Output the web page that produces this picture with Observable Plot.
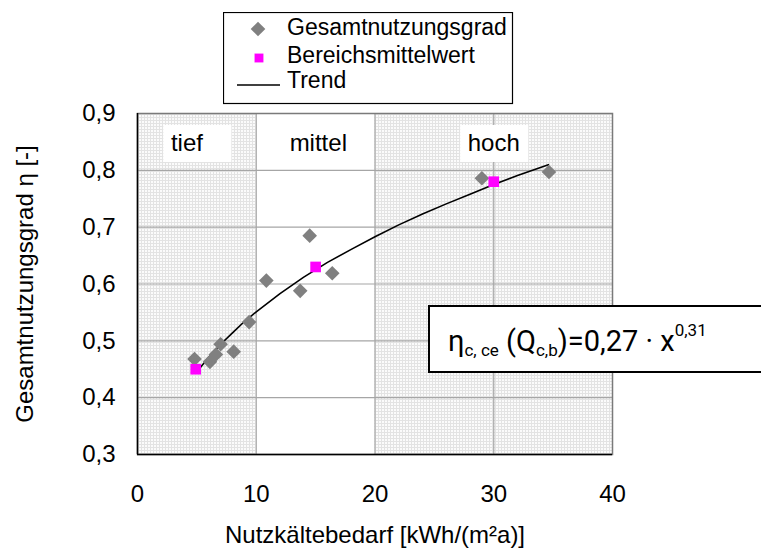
<!DOCTYPE html>
<html>
<head>
<meta charset="utf-8">
<script src="https://cdn.jsdelivr.net/npm/d3@7"></script>
<script src="https://cdn.jsdelivr.net/npm/@observablehq/plot@0.6"></script>
<style>
  html, body { margin: 0; padding: 0; background: #fff; }
  body { width: 761px; height: 552px; position: relative; overflow: hidden; font-family: "Liberation Sans", Arial, sans-serif; }
  #chart { position: absolute; left: 0; top: 0; }
  #legend { position: absolute; left: 223px; top: 12px; }
  #eq { position: absolute; left: 428px; top: 305px; width: 360px; height: 64px; border: 2px solid #000; background: #fff; font-family: Roboto, "Liberation Sans", sans-serif; font-size: 29px; color: #000; }
  #eq .line { position: absolute; left: 18px; top: 20px; line-height: 1; white-space: nowrap; }
  #eq .sub { font-size: 17px; position: relative; top: 5px; }
  #eq .sup { font-size: 17px; position: relative; top: -15px; }
</style>
</head>
<body>
<div id="chart"></div>
<svg id="legend" width="291" height="93"></svg>
<div id="eq"><div class="line"><span>η</span><span class="sub">c, ce</span> (Q<span class="sub">c,b</span>)=0,27 · x<span class="sup">0,31</span></div></div>
<script>
// ---- data ----
const xTicks = [0, 10, 20, 30, 40];
const yTicks = [0.3, 0.4, 0.5, 0.6, 0.7, 0.8, 0.9];

const zoneNames = ["tief", "mittel", "hoch"];
const zoneStart = [0, 10, 20];
const zoneEnd = [10, 20, 40];
const zoneShaded = [true, false, true];

// Gesamtnutzungsgrad (grey diamonds)
const gesX = [4.8, 6.1, 6.6, 7.0, 8.1, 9.4, 10.85, 13.7, 14.5, 16.4, 29.0, 34.65];
const gesY = [0.468, 0.463, 0.476, 0.494, 0.481, 0.533, 0.606, 0.588, 0.685, 0.619, 0.786, 0.797];

// Bereichsmittelwert (magenta squares)
const bmX = [4.9, 15.0, 30.0];
const bmY = [0.450, 0.630, 0.780];

// Trend
const trendX = [4.9, 6, 7, 8, 9, 10, 12, 14, 16, 18, 20, 22, 24, 26, 28, 30, 32, 34.6];
const trendY = [0.443, 0.471, 0.494, 0.514, 0.534, 0.551, 0.583, 0.612, 0.638, 0.661, 0.683, 0.704, 0.723, 0.741, 0.758, 0.775, 0.791, 0.810];

const legendLabels = ["Gesamtnutzungsgrad", "Bereichsmittelwert", "Trend"];
const xLabel = "Nutzkältebedarf [kWh/(m²a)]";
const yLabel = "Gesamtnutzungsgrad η [-]";

// ---- tables ----
const zones = zoneNames.map((name, i) => ({name, x1: zoneStart[i], x2: zoneEnd[i], mid: (zoneStart[i] + zoneEnd[i]) / 2, shaded: zoneShaded[i]}));
const ges = gesX.map((x, i) => ({x, y: gesY[i]}));
const bm = bmX.map((x, i) => ({x, y: bmY[i]}));
const trend = trendX.map((x, i) => ({x, y: trendY[i]}));

const grey = "#808080";
const magenta = "#ff00ff";

const chart = Plot.plot({
  width: 761,
  height: 552,
  marginTop: 113,
  marginLeft: 137,
  marginRight: 149,
  marginBottom: 98,
  style: {fontFamily: "'Liberation Sans', Arial, sans-serif", fontSize: "24px", color: "#000", background: "transparent"},
  x: {domain: [0, 40]},
  y: {domain: [0.3, 0.9]},
  marks: [
    Plot.rect(zones.filter(d => d.shaded), {x1: "x1", x2: "x2", fill: "url(#dotgrid)"}),
    Plot.gridX(xTicks.slice(1, -1), {stroke: "#a6a6a6", strokeOpacity: 1, strokeWidth: 1.2}),
    Plot.gridY(yTicks.slice(1, -1), {stroke: "#a6a6a6", strokeOpacity: 1, strokeWidth: 1.2}),
    Plot.frame({stroke: "#7a7a7a", strokeWidth: 1.5}),
    Plot.ruleX([0], {stroke: "#000", strokeWidth: 1.5}),
    Plot.ruleY([0.3], {stroke: "#000", strokeWidth: 1.5}),
    Plot.rect(zones, {x1: "mid", x2: "mid", insetLeft: -33, insetRight: -35, insetTop: 12, insetBottom: 292, fill: "#fff"}),
    Plot.text(zones, {x: "mid", text: "name", frameAnchor: "top", textAnchor: "start", lineAnchor: "middle", dx: -26, dy: 30, fontSize: 24, fill: "#000"}),
    Plot.line(trend, {x: "x", y: "y", stroke: "#000", strokeWidth: 1.6}),
    Plot.dot(ges, {x: "x", y: "y", symbol: "diamond2", r: 6.6, fill: grey, stroke: "none"}),
    Plot.dot(bm, {x: "x", y: "y", symbol: "square", r: 6, fill: magenta, stroke: "none"}),
    Plot.axisX({ticks: xTicks, tickSize: 0, tickPadding: 30, fontSize: 24, label: xLabel, labelAnchor: "center", labelArrow: "none", labelOffset: 88}),
    Plot.axisY({ticks: yTicks, tickSize: 0, tickPadding: 22, fontSize: 24, tickFormat: d => d.toFixed(1).replace(".", ","), label: yLabel, labelAnchor: "center", labelArrow: "none", labelOffset: 122})
  ]
});

// fine dotted-grid fill pattern for shaded zones
const defs = d3.select(chart).insert("defs", ":first-child");
const pat = defs.append("pattern").attr("id", "dotgrid").attr("width", 3).attr("height", 3).attr("patternUnits", "userSpaceOnUse");
pat.append("rect").attr("width", 3).attr("height", 3).attr("fill", "#fbfbfb");
pat.append("rect").attr("width", 3).attr("height", 1).attr("fill", "#e3e3e3");
pat.append("rect").attr("width", 1).attr("height", 3).attr("fill", "#e3e3e3");

document.getElementById("chart").appendChild(chart);

// ---- legend ----
const lg = d3.select("#legend");
lg.append("rect").attr("x", 0.5).attr("y", 0.5).attr("width", 289).attr("height", 91).attr("fill", "#fff").attr("stroke", "#000").attr("stroke-width", 1.2);
const rowsY = [23, 51, 76];
const symY = [17, 46, 73];
const symPath = [
  d3.symbol(d3.symbolDiamond2, Math.PI * 6.6 * 6.6)(),
  d3.symbol(d3.symbolSquare, Math.PI * 5 * 5)(),
  null
];
legendLabels.forEach((label, i) => {
  if (i === 0) lg.append("path").attr("d", symPath[0]).attr("transform", `translate(35,${symY[i]})`).attr("fill", grey);
  if (i === 1) lg.append("path").attr("d", symPath[1]).attr("transform", `translate(36,${symY[i]})`).attr("fill", magenta);
  if (i === 2) lg.append("line").attr("x1", 14).attr("x2", 57).attr("y1", symY[i]).attr("y2", symY[i]).attr("stroke", "#000").attr("stroke-width", 1.5);
  lg.append("text").attr("x", 64).attr("y", rowsY[i]).attr("font-family", "'Liberation Sans', Arial, sans-serif").attr("font-size", 23).attr("fill", "#000").text(label);
});
</script>
</body>
</html>
